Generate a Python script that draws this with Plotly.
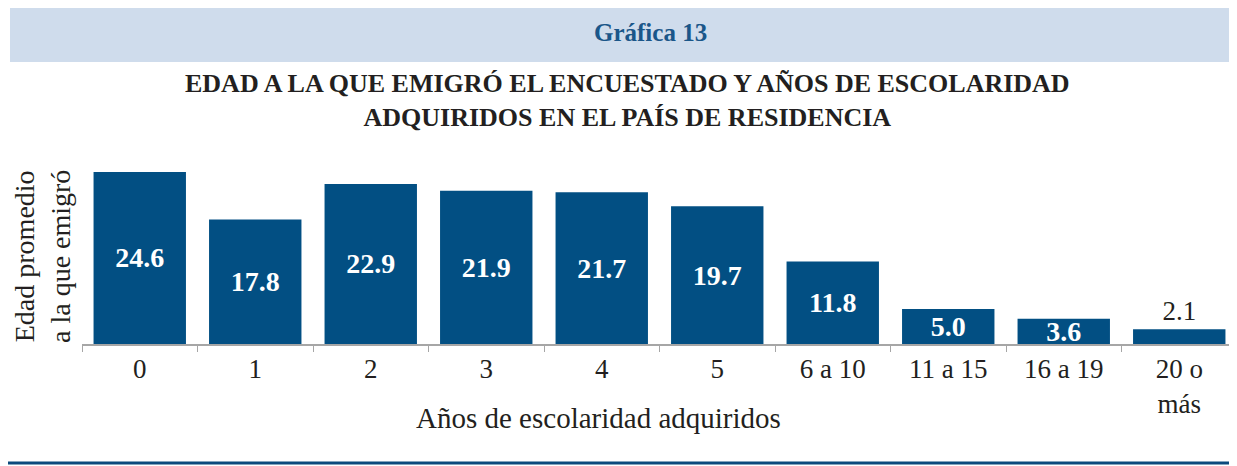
import plotly.graph_objects as go

categories = ["0", "1", "2", "3", "4", "5", "6 a 10", "11 a 15", "16 a 19", "20 o<br>más"]
values = [24.6, 17.8, 22.9, 21.9, 21.7, 19.7, 11.8, 5.0, 3.6, 2.1]
labels = ["24.6", "17.8", "22.9", "21.9", "21.7", "19.7", "11.8", "5.0", "3.6", "2.1"]

OFF = 8  # default page body margin
W, H = 1237 - OFF, 466 - OFF
PL, PR, PT, PB = 82 - OFF, 1237 - OFF, 165 - OFF, 344 - OFF  # plot area edges (figure px)
YMAX = 25.6

FONT = "Liberation Serif"
BAR = "#024f83"
TXT = "#231f20"


def px(x):
    # reference page x -> paper coordinate
    return (x - OFF - PL) / (PR - PL)


def py(y):
    # reference page y -> paper coordinate
    return (PB - (y - OFF)) / (PB - PT)


positions = ["inside"] * (len(values) - 1) + ["outside"]

fig = go.Figure()
fig.add_trace(go.Bar(
    x=categories, y=values, text=labels,
    textposition=positions, insidetextanchor="middle",
    constraintext="none",
    insidetextfont=dict(family=FONT, size=28, color="white", weight="bold"),
    outsidetextfont=dict(family=FONT, size=27, color=TXT),
    textangle=0, cliponaxis=False,
    marker=dict(color=BAR, line=dict(width=0)),
    width=0.8,
))

ann = dict(xref="paper", yref="paper", showarrow=False, xanchor="center", yanchor="middle")

fig.update_layout(
    width=W, height=H,
    margin=dict(l=PL, r=W - PR, t=PT, b=H - PB, pad=0),
    paper_bgcolor="white", plot_bgcolor="white",
    showlegend=False,
    uniformtext=dict(mode=False),
    xaxis=dict(
        type="category", tickson="boundaries", ticks="outside", ticklen=6,
        tickcolor="#a6a6a6", showline=True, linecolor="#a6a6a6", linewidth=1.5,
        tickfont=dict(family=FONT, size=27, color=TXT), showgrid=False,
        range=[-0.5, 9.5],
    ),
    yaxis=dict(range=[0, YMAX], visible=False, showgrid=False),
    shapes=[
        dict(type="rect", xref="paper", yref="paper",
             x0=px(10), x1=px(1240), y0=py(62), y1=py(5),
             fillcolor="#cfdcec", line=dict(width=0), layer="below"),
        dict(type="line", xref="paper", yref="paper",
             x0=px(5), x1=px(1240), y0=py(463), y1=py(463),
             line=dict(color="#0b4a7d", width=3)),
    ],
    annotations=[
        dict(ann, text="<b>Gráfica 13</b>", x=px(650), y=py(33),
             font=dict(family=FONT, size=25, color="#1a5689")),
        dict(ann, text="<b>EDAD A LA QUE EMIGRÓ EL ENCUESTADO Y AÑOS DE ESCOLARIDAD<br>ADQUIRIDOS EN EL PAÍS DE RESIDENCIA</b>",
             x=px(627), y=py(101),
             font=dict(family=FONT, size=26, color=TXT), align="center"),
        dict(ann, text="Años de escolaridad adquiridos", x=px(598), y=py(418),
             font=dict(family=FONT, size=29, color=TXT)),
        dict(ann, text="Edad promedio<br>a la que emigró", x=px(42), y=py(257),
             textangle=-90,
             font=dict(family=FONT, size=28, color=TXT), align="center"),
    ],
)

fig.write_html("out.html")
